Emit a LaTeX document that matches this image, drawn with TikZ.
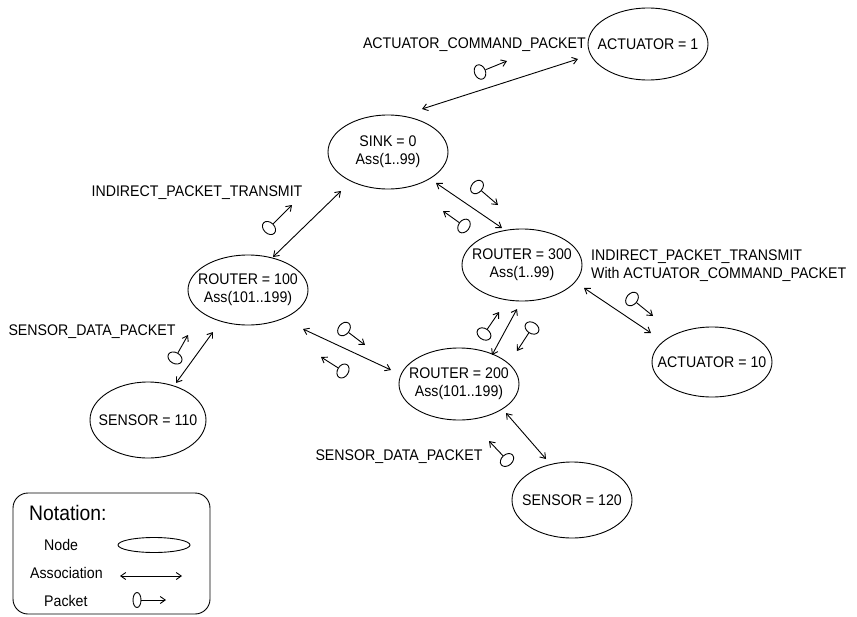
\documentclass[tikz,border=0pt]{standalone}
\usepackage{fontspec}
\setmainfont[FakeStretch=0.92]{Liberation Sans}
\usetikzlibrary{shapes.geometric,arrows.meta}
\begin{document}
\begin{tikzpicture}[x=1pt,y=-1pt,
  font=\fontsize{15.4}{18}\selectfont,
  nd/.style={ellipse,draw,line width=0.9pt,minimum width=120pt,minimum height=72pt,inner sep=0pt},
  assoc/.style={{Straight Barb[length=5pt,width=7pt]}-{Straight Barb[length=5pt,width=7pt]},line width=0.9pt},
  pkt/.style={ellipse,draw,line width=0.9pt,minimum width=11pt,minimum height=15pt,inner sep=0pt},
  pa/.style={-{Straight Barb[length=5pt,width=7pt]},line width=0.9pt},
  lbl/.style={inner sep=0pt},
  two/.style={label={[align=center,inner sep=0pt]center:#1}}]
\useasboundingbox (0,0) rectangle (857,616);

% nodes
\node[nd,label={[inner sep=0pt]center:ACTUATOR = 1}] (act1) at (648,44) {};
\node[nd,minimum height=74pt,two={SINK = 0\\Ass(1..99)}] (sink) at (388,152) {};
\node[nd,minimum height=70pt,two={ROUTER = 100\\Ass(101..199)}] (r100) at (248,290) {};
\node[nd,two={ROUTER = 300\\Ass(1..99)}] (r300) at (522,265) {};
\node[nd,two={ROUTER = 200\\Ass(101..199)}] (r200) at (459,384) {};
\node[nd,minimum height=70pt,label={[inner sep=0pt]center:ACTUATOR = 10}] (act10) at (712,362) {};
\node[nd,minimum width=116pt,minimum height=76pt,label={[inner sep=0pt]center:SENSOR = 110}] (s110) at (148,420) {};
\node[nd,minimum height=76pt,label={[inner sep=0pt]center:SENSOR = 120}] (s120) at (572,500) {};

% labels
\node[lbl,anchor=east] (l1) at (586,45) {ACTUATOR\_COMMAND\_PACKET};
\node[lbl] (l2) at (197,193) {INDIRECT\_PACKET\_TRANSMIT};
\node[lbl] (l3) at (92,332) {SENSOR\_DATA\_PACKET};
\node[lbl,anchor=north west,align=left] (l4) at (591,250) {INDIRECT\_PACKET\_TRANSMIT\\With ACTUATOR\_COMMAND\_PACKET};
\node[lbl] (l5) at (399,457) {SENSOR\_DATA\_PACKET};

% associations
\draw[assoc] ([shift={(34,-43)}]sink.center) -- ([shift={(-70,15)}]act1.center);
\draw[assoc] ([shift={(-47,39)}]sink.center) -- ([shift={(25,-33)}]r100.center);
\draw[assoc] ([shift={(48,31)}]sink.center) -- ([shift={(-20,-37)}]r300.center);
\draw[assoc] ([shift={(55,39)}]r100.center) -- ([shift={(-68,-14)}]r200.center);
\draw[assoc] ([shift={(-5,44)}]r300.center) -- ([shift={(33,-29)}]r200.center);
\draw[assoc] ([shift={(62,23)}]r300.center) -- ([shift={(-61,-29)}]act10.center);
\draw[assoc] ([shift={(-35,42)}]r100.center) -- ([shift={(28,-37)}]s110.center);
\draw[assoc] ([shift={(47,29)}]r200.center) -- ([shift={(-26,-41)}]s120.center);

% packets
\node[pkt,rotate=22] (p1) at (480,72) {};   \coordinate (p1t) at (507,61);
\node[pkt,rotate=45] (p2) at (269,228) {};  \coordinate (p2t) at (292,205);
\node[pkt,rotate=-41] (p3) at (477,187) {}; \coordinate (p3t) at (498,205);
\node[pkt,rotate=144] (p4) at (464,226) {}; \coordinate (p4t) at (443,211);
\node[pkt,rotate=-39] (p5) at (344,329) {}; \coordinate (p5t) at (365,345);
\node[pkt,rotate=149] (p6) at (343,371) {}; \coordinate (p6t) at (321,357);
\node[pkt,rotate=56] (p7) at (484,334) {};  \coordinate (p7t) at (499,312);
\node[pkt,rotate=237] (p8) at (532,328) {}; \coordinate (p8t) at (517,351);
\node[pkt,rotate=-39] (p9) at (632,299) {}; \coordinate (p9t) at (653,316);
\node[pkt,rotate=60] (p10) at (175,358) {}; \coordinate (p10t) at (188,335);
\node[pkt,rotate=132] (p11) at (507,460) {}; \coordinate (p11t) at (489,441);
\foreach \p in {p1,p2,p3,p4,p5,p6,p7,p8,p9,p10,p11}
  \draw[pa] (\p) -- (\p t);

% notation box
\node[draw,line width=0.9pt,rounded corners=15pt,minimum width=197pt,minimum height=121pt,inner sep=0pt] (legend) at (111.5,553.5) {};
\node[lbl,anchor=west,font=\fontsize{21}{24}\selectfont] (ln) at (29,513) {Notation:};
\node[lbl,anchor=west] (lnd) at (44,545) {Node};
\node[lbl,anchor=west] (las) at (30,573) {Association};
\node[lbl,anchor=west] (lpk) at (44,601) {Packet};
\node[ellipse,draw,line width=0.9pt,minimum width=72pt,minimum height=15pt,inner sep=0pt] (lell) at (154,545) {};
\coordinate (la1) at (120,576);
\coordinate (la2) at (182,576);
\draw[assoc] (la1) -- (la2);
\node[pkt,minimum width=8pt] (lp) at (137,600) {};
\coordinate (lpt) at (166,600);
\draw[pa] (lp) -- (lpt);
\end{tikzpicture}
\end{document}
